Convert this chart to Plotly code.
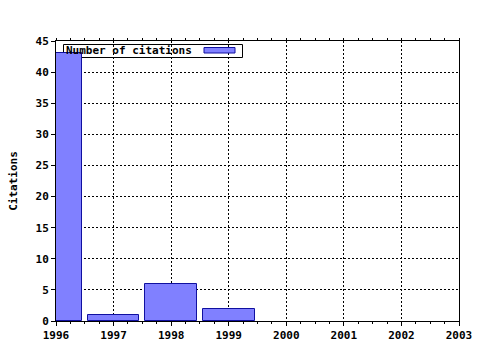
import plotly.graph_objects as go

years = [1996, 1997, 1998, 1999]
citations = [43, 1, 6, 2]
series_name = "Number of citations"
y_title = "Citations"

FONT = dict(family="DejaVu Sans Mono", size=11, color="black", weight="bold")

fig = go.Figure()
fig.add_trace(go.Bar(
    x=years, y=citations, width=0.9, name=series_name,
    marker=dict(color="#8080ff", line=dict(color="#1010a0", width=1)),
    showlegend=False,
))
# dummy trace on top axis for mirrored minor ticks
fig.add_trace(go.Scatter(x=[1996], y=[0], xaxis="x2", mode="markers",
                         marker=dict(opacity=0), showlegend=False, hoverinfo="skip"))

fig.update_layout(
    width=480, height=350,
    margin=dict(l=56, r=21, t=41, b=29, autoexpand=False),
    paper_bgcolor="white", plot_bgcolor="white",
    font=FONT,
    bargap=0,
    xaxis=dict(
        range=[1996, 2003], tick0=1996, dtick=1, tickformat="d",
        ticks="outside", ticklen=4, tickcolor="black",
        minor=dict(dtick=0.25, ticks="outside", ticklen=2, tickcolor="black", showgrid=False),
        showgrid=True, gridcolor="black", griddash="2px,2px", gridwidth=1,
        showline=True, linecolor="black", linewidth=1, mirror=True,
        zeroline=False, tickfont=FONT, automargin=False,
    ),
    xaxis2=dict(
        range=[1996, 2003], overlaying="x", side="top",
        tick0=1996, dtick=1, ticks="outside", ticklen=2, tickcolor="black",
        minor=dict(dtick=0.25, ticks="outside", ticklen=2, tickcolor="black"),
        showticklabels=False, showgrid=False, showline=False, zeroline=False,
        automargin=False,
    ),
    yaxis=dict(
        range=[0, 45], dtick=5,
        ticks="outside", ticklen=4, tickcolor="black",
        showgrid=True, gridcolor="black", griddash="2px,2px", gridwidth=1,
        showline=True, linecolor="black", linewidth=1, mirror=True,
        zeroline=False, tickfont=FONT, automargin=False,
        title=dict(text=y_title, font=FONT, standoff=15),
    ),
)

# legend box (drawn manually to put the swatch after the text)
W, H = 403.0, 280.0
def px(x): return (x - 56) / W
def py(y): return (321 - y) / H

fig.add_shape(type="rect", xref="paper", yref="paper",
              x0=px(63.5), x1=px(242.5), y0=py(57.5), y1=py(44.5),
              line=dict(color="black", width=1), fillcolor="white", layer="between")
fig.add_shape(type="rect", xref="paper", yref="paper",
              x0=px(204), x1=px(235), y0=py(53), y1=py(47.5),
              line=dict(color="#1010a0", width=1), fillcolor="#8080ff", layer="above")
fig.add_annotation(xref="paper", yref="paper", x=px(64), y=py(50.5),
                   xanchor="left", yanchor="middle", text=series_name,
                   showarrow=False, font=FONT)

fig.write_html("out.html")
